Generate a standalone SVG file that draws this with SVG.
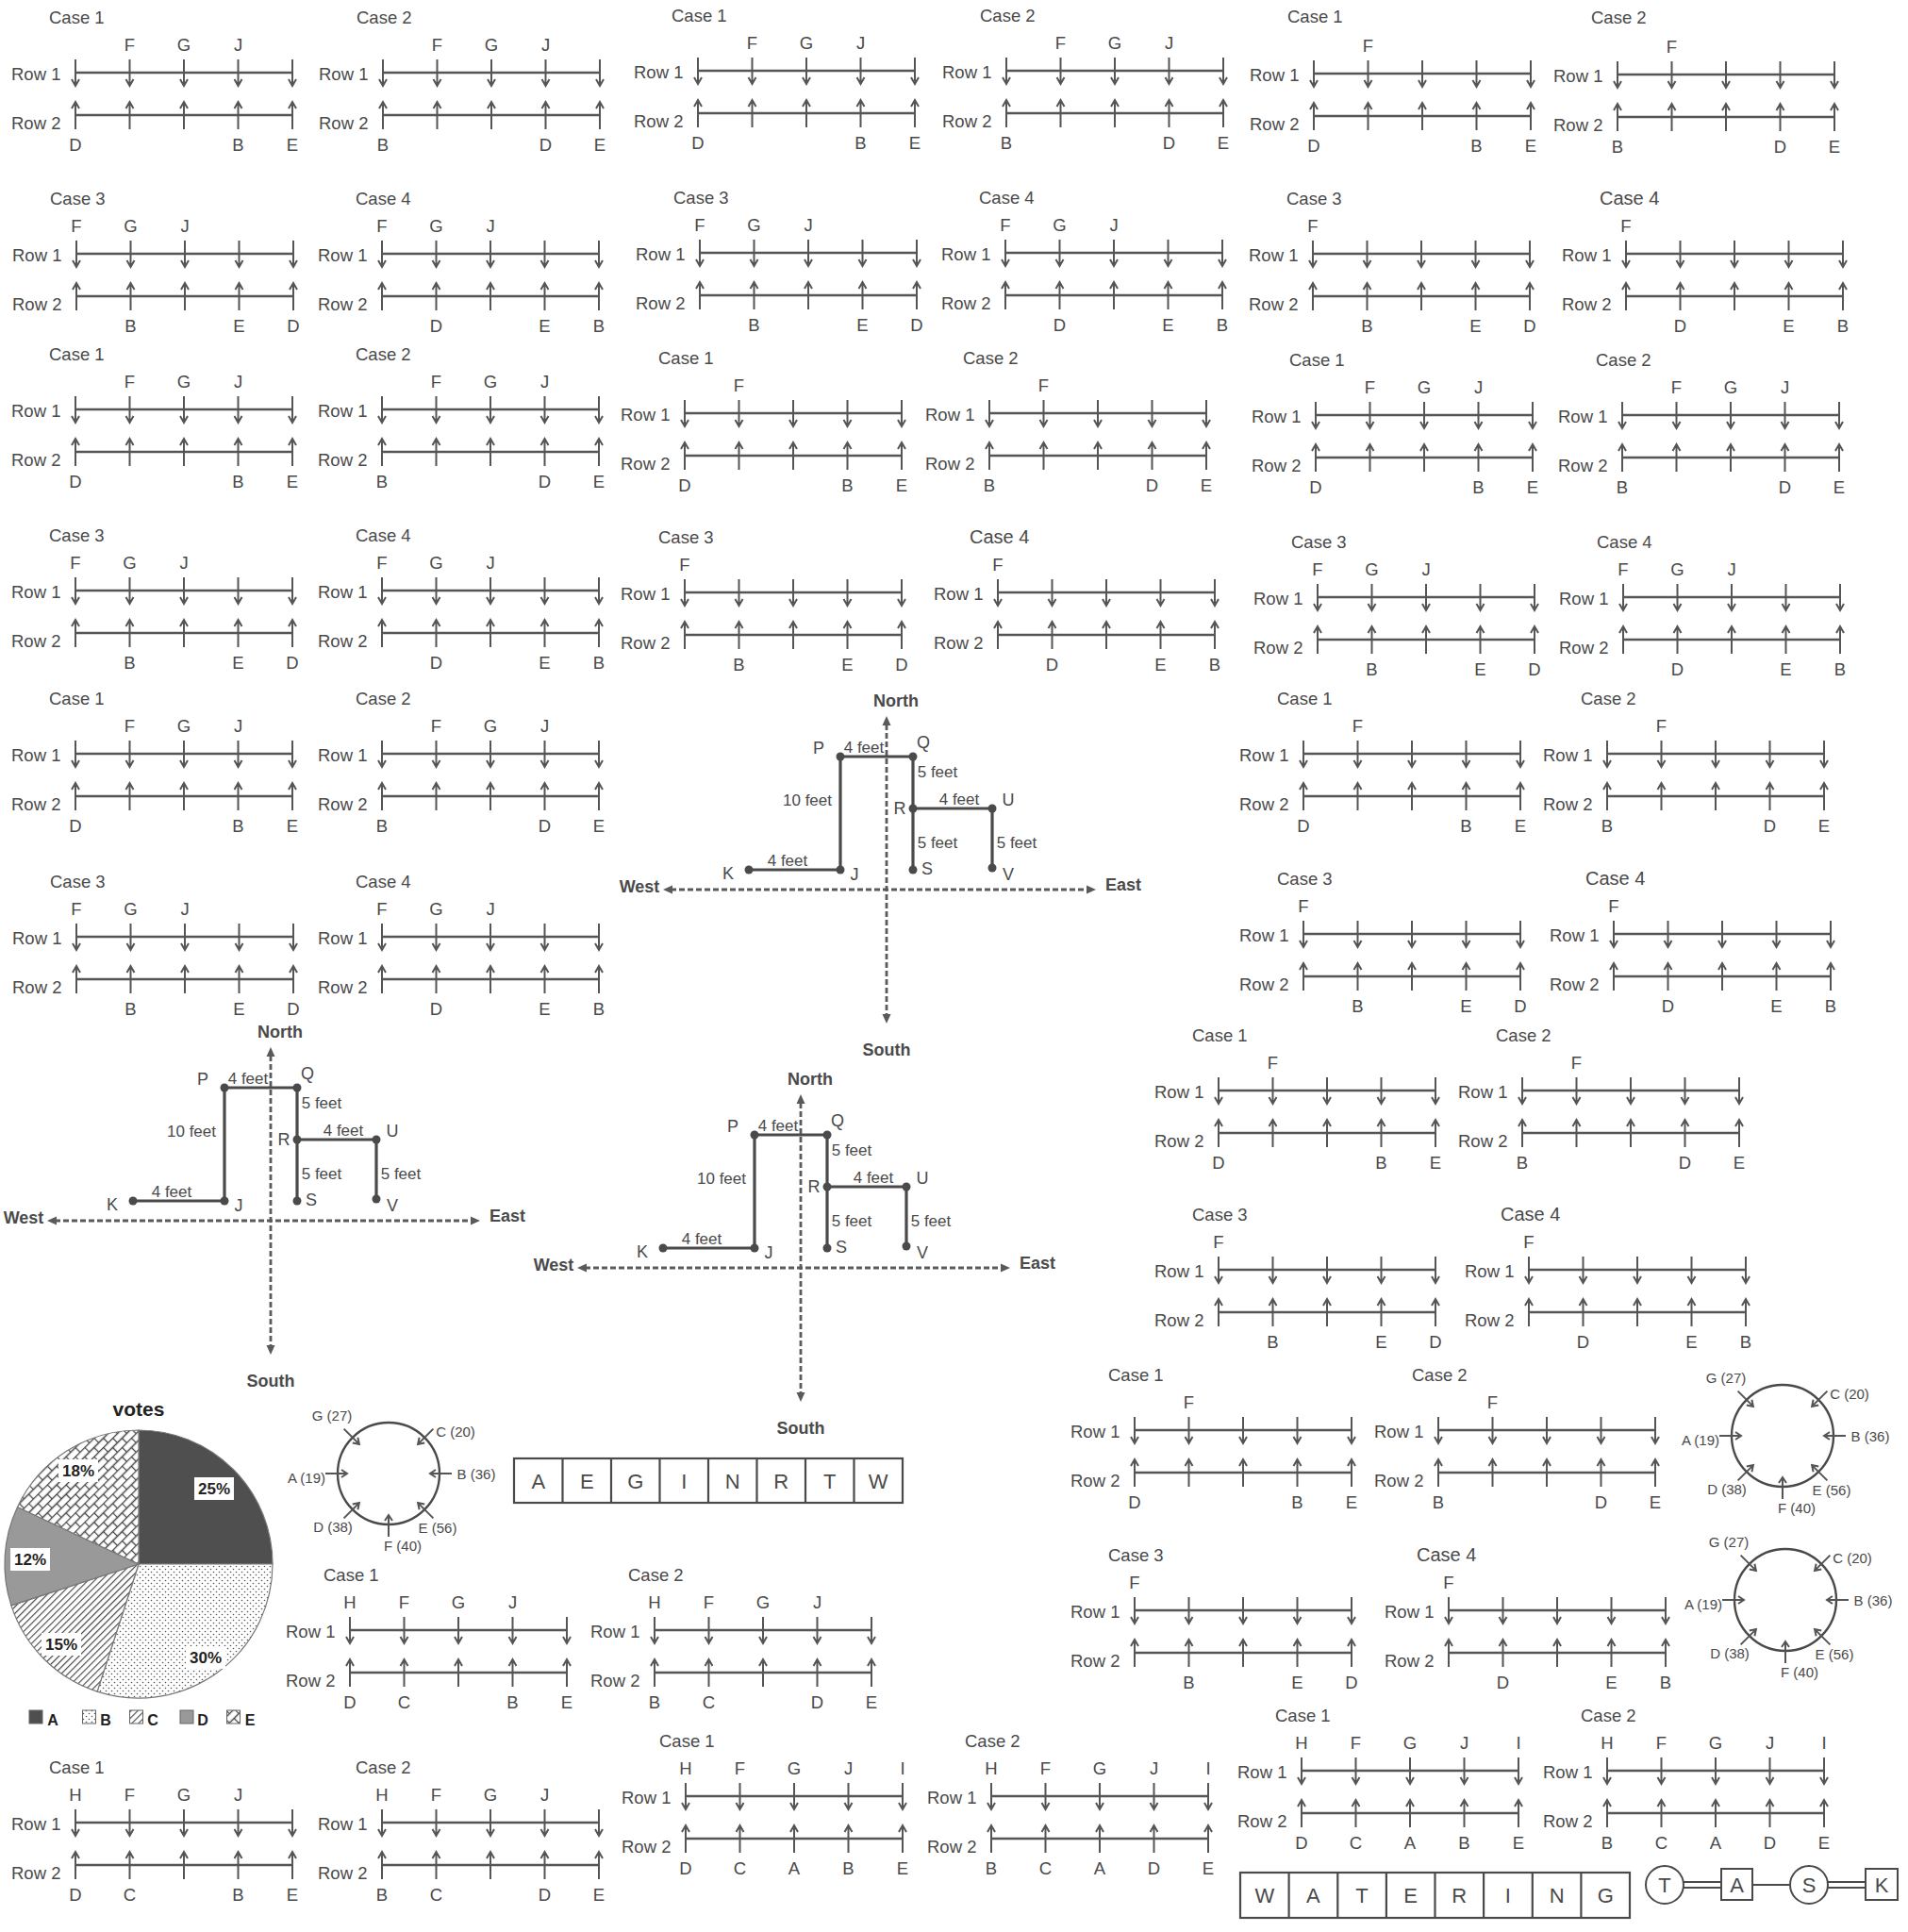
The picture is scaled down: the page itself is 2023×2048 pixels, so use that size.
<svg xmlns="http://www.w3.org/2000/svg" xmlns:xlink="http://www.w3.org/1999/xlink" width="2023" height="2048" viewBox="0 0 2023 2048">
<style>
text{font-family:'Liberation Sans',Arial,sans-serif;fill:#4a4a4a}
.pn text{font-size:18.5px}
.m{text-anchor:middle}
.ln{stroke:#555;stroke-width:2.4;fill:none}
.ar{stroke:#555;stroke-width:2;fill:none}
.dash{stroke:#5a5a5a;stroke-width:2.8;stroke-dasharray:6 3;fill:none}
.route{stroke:#4a4a4a;stroke-width:3.2;fill:none}
.dir{font-size:18px;font-weight:bold;text-anchor:middle}
.ft{font-size:17px;text-anchor:middle}
.nl{font-size:18px;text-anchor:middle}
.cl{font-size:15px;text-anchor:middle}
.box{fill:#fff;stroke:#4a4a4a;stroke-width:2.2}
.bl{font-size:22px;text-anchor:middle}
.pc{font-size:17px;font-weight:bold;text-anchor:middle;fill:#222}
.lg{font-size:16px;font-weight:bold;text-anchor:middle;fill:#222}
</style>
<defs>
<g id="rows">
<path class="ln" d="M0,0H230M0,45H230"/>
<path class="ar" d="M0,-14V14M57.5,-14V14M115,-14V14M172.5,-14V14M230,-14V14M-4,7L0,14L4,7M53.5,7L57.5,14L61.5,7M111,7L115,14L119,7M168.5,7L172.5,14L176.5,7M226,7L230,14L234,7"/>
<path class="ar" d="M0,60V31M57.5,60V31M115,60V31M172.5,60V31M230,60V31M-4,38L0,31L4,38M53.5,38L57.5,31L61.5,38M111,38L115,31L119,38M168.5,38L172.5,31L176.5,38M226,38L230,31L234,38"/>
<text x="-68" y="8" style="font-size:18.5px">Row 1</text>
<text x="-68" y="60" style="font-size:18.5px">Row 2</text>
</g>
<g id="circ">
<circle r="54" fill="none" stroke="#4a4a4a" stroke-width="2.4"/>
<path class="ar" d="M-67,0H-44M-50,-4L-44,0L-50,4M67,0H44M50,-4L44,0L50,4M0,67V44M-4,50L0,44L4,50M47.4,-47.4L31.1,-31.1M38.2,-32.6L31.1,-31.1L32.6,-38.2M-47.4,-47.4L-31.1,-31.1M-32.6,-38.2L-31.1,-31.1L-38.2,-32.6M47.4,47.4L31.1,31.1M38.2,32.6L31.1,31.1L32.6,38.2M-47.4,47.4L-31.1,31.1M-32.6,38.2L-31.1,31.1L-38.2,32.6"/>
<text class="cl" x="-60" y="-56">G (27)</text>
<text class="cl" x="71" y="-39">C (20)</text>
<text class="cl" x="-87" y="10">A (19)</text>
<text class="cl" x="93" y="6">B (36)</text>
<text class="cl" x="-59" y="62">D (38)</text>
<text class="cl" x="52" y="63">E (56)</text>
<text class="cl" x="15" y="82">F (40)</text>
</g>
<pattern id="dots" width="6" height="6" patternUnits="userSpaceOnUse"><rect width="6" height="6" fill="#fff"/><circle cx="1.5" cy="1.5" r="0.8" fill="#555"/><circle cx="4.5" cy="4.5" r="0.8" fill="#555"/></pattern>
<pattern id="hatch" width="5" height="5" patternUnits="userSpaceOnUse" patternTransform="rotate(45)"><rect width="5" height="5" fill="#fff"/><line x1="0.5" y1="0" x2="0.5" y2="5" stroke="#444" stroke-width="1.3"/></pattern>
<pattern id="brick" width="14" height="14" patternUnits="userSpaceOnUse" patternTransform="rotate(-45)"><rect width="14" height="14" fill="#fff"/><path d="M0,0.5H14M0,7.5H14M0.5,0V7M7.5,7V14" stroke="#444" stroke-width="1.3" fill="none"/></pattern>
</defs>
<rect width="2023" height="2048" fill="#fff"/>

<!-- panels -->
<g class="pn">
<g id="p01" transform="translate(80,77)"><use href="#rows"/><text x="-28" y="-52">Case 1</text><text class="m" x="57.5" y="-23">F</text><text class="m" x="115" y="-23">G</text><text class="m" x="172.5" y="-23">J</text><text class="m" x="0" y="83">D</text><text class="m" x="172.5" y="83">B</text><text class="m" x="230" y="83">E</text></g>
<g id="p02" transform="translate(406,77)"><use href="#rows"/><text x="-28" y="-52">Case 2</text><text class="m" x="57.5" y="-23">F</text><text class="m" x="115" y="-23">G</text><text class="m" x="172.5" y="-23">J</text><text class="m" x="0" y="83">B</text><text class="m" x="172.5" y="83">D</text><text class="m" x="230" y="83">E</text></g>
<g id="p03" transform="translate(740,75)"><use href="#rows"/><text x="-28" y="-52">Case 1</text><text class="m" x="57.5" y="-23">F</text><text class="m" x="115" y="-23">G</text><text class="m" x="172.5" y="-23">J</text><text class="m" x="0" y="83">D</text><text class="m" x="172.5" y="83">B</text><text class="m" x="230" y="83">E</text></g>
<g id="p04" transform="translate(1067,75)"><use href="#rows"/><text x="-28" y="-52">Case 2</text><text class="m" x="57.5" y="-23">F</text><text class="m" x="115" y="-23">G</text><text class="m" x="172.5" y="-23">J</text><text class="m" x="0" y="83">B</text><text class="m" x="172.5" y="83">D</text><text class="m" x="230" y="83">E</text></g>
<g id="p05" transform="translate(1393,78)"><use href="#rows"/><text x="-28" y="-54">Case 1</text><text class="m" x="57.5" y="-23">F</text><text class="m" x="0" y="83">D</text><text class="m" x="172.5" y="83">B</text><text class="m" x="230" y="83">E</text></g>
<g id="p06" transform="translate(1715,79)"><use href="#rows"/><text x="-28" y="-54">Case 2</text><text class="m" x="57.5" y="-23">F</text><text class="m" x="0" y="83">B</text><text class="m" x="172.5" y="83">D</text><text class="m" x="230" y="83">E</text></g>

<g id="p07" transform="translate(81,269)"><use href="#rows"/><text x="-28" y="-52">Case 3</text><text class="m" x="0" y="-23">F</text><text class="m" x="57.5" y="-23">G</text><text class="m" x="115" y="-23">J</text><text class="m" x="57.5" y="83">B</text><text class="m" x="172.5" y="83">E</text><text class="m" x="230" y="83">D</text></g>
<g id="p08" transform="translate(405,269)"><use href="#rows"/><text x="-28" y="-52">Case 4</text><text class="m" x="0" y="-23">F</text><text class="m" x="57.5" y="-23">G</text><text class="m" x="115" y="-23">J</text><text class="m" x="57.5" y="83">D</text><text class="m" x="172.5" y="83">E</text><text class="m" x="230" y="83">B</text></g>
<g id="p09" transform="translate(742,268)"><use href="#rows"/><text x="-28" y="-52">Case 3</text><text class="m" x="0" y="-23">F</text><text class="m" x="57.5" y="-23">G</text><text class="m" x="115" y="-23">J</text><text class="m" x="57.5" y="83">B</text><text class="m" x="172.5" y="83">E</text><text class="m" x="230" y="83">D</text></g>
<g id="p10" transform="translate(1066,268)"><use href="#rows"/><text x="-28" y="-52">Case 4</text><text class="m" x="0" y="-23">F</text><text class="m" x="57.5" y="-23">G</text><text class="m" x="115" y="-23">J</text><text class="m" x="57.5" y="83">D</text><text class="m" x="172.5" y="83">E</text><text class="m" x="230" y="83">B</text></g>
<g id="p11" transform="translate(1392,269)"><use href="#rows"/><text x="-28" y="-52">Case 3</text><text class="m" x="0" y="-23">F</text><text class="m" x="57.5" y="83">B</text><text class="m" x="172.5" y="83">E</text><text class="m" x="230" y="83">D</text></g>
<g id="p12" transform="translate(1724,269)"><use href="#rows"/><text x="-28" y="-52" style="font-size:20px">Case 4</text><text class="m" x="0" y="-23">F</text><text class="m" x="57.5" y="83">D</text><text class="m" x="172.5" y="83">E</text><text class="m" x="230" y="83">B</text></g>

<g id="p13" transform="translate(80,434)"><use href="#rows"/><text x="-28" y="-52">Case 1</text><text class="m" x="57.5" y="-23">F</text><text class="m" x="115" y="-23">G</text><text class="m" x="172.5" y="-23">J</text><text class="m" x="0" y="83">D</text><text class="m" x="172.5" y="83">B</text><text class="m" x="230" y="83">E</text></g>
<g id="p14" transform="translate(405,434)"><use href="#rows"/><text x="-28" y="-52">Case 2</text><text class="m" x="57.5" y="-23">F</text><text class="m" x="115" y="-23">G</text><text class="m" x="172.5" y="-23">J</text><text class="m" x="0" y="83">B</text><text class="m" x="172.5" y="83">D</text><text class="m" x="230" y="83">E</text></g>
<g id="p15" transform="translate(726,438)"><use href="#rows"/><text x="-28" y="-52">Case 1</text><text class="m" x="57.5" y="-23">F</text><text class="m" x="0" y="83">D</text><text class="m" x="172.5" y="83">B</text><text class="m" x="230" y="83">E</text></g>
<g id="p16" transform="translate(1049,438)"><use href="#rows"/><text x="-28" y="-52">Case 2</text><text class="m" x="57.5" y="-23">F</text><text class="m" x="0" y="83">B</text><text class="m" x="172.5" y="83">D</text><text class="m" x="230" y="83">E</text></g>
<g id="p17" transform="translate(1395,440)"><use href="#rows"/><text x="-28" y="-52">Case 1</text><text class="m" x="57.5" y="-23">F</text><text class="m" x="115" y="-23">G</text><text class="m" x="172.5" y="-23">J</text><text class="m" x="0" y="83">D</text><text class="m" x="172.5" y="83">B</text><text class="m" x="230" y="83">E</text></g>
<g id="p18" transform="translate(1720,440)"><use href="#rows"/><text x="-28" y="-52">Case 2</text><text class="m" x="57.5" y="-23">F</text><text class="m" x="115" y="-23">G</text><text class="m" x="172.5" y="-23">J</text><text class="m" x="0" y="83">B</text><text class="m" x="172.5" y="83">D</text><text class="m" x="230" y="83">E</text></g>

<g id="p19" transform="translate(80,626)"><use href="#rows"/><text x="-28" y="-52">Case 3</text><text class="m" x="0" y="-23">F</text><text class="m" x="57.5" y="-23">G</text><text class="m" x="115" y="-23">J</text><text class="m" x="57.5" y="83">B</text><text class="m" x="172.5" y="83">E</text><text class="m" x="230" y="83">D</text></g>
<g id="p20" transform="translate(405,626)"><use href="#rows"/><text x="-28" y="-52">Case 4</text><text class="m" x="0" y="-23">F</text><text class="m" x="57.5" y="-23">G</text><text class="m" x="115" y="-23">J</text><text class="m" x="57.5" y="83">D</text><text class="m" x="172.5" y="83">E</text><text class="m" x="230" y="83">B</text></g>
<g id="p21" transform="translate(726,628)"><use href="#rows"/><text x="-28" y="-52">Case 3</text><text class="m" x="0" y="-23">F</text><text class="m" x="57.5" y="83">B</text><text class="m" x="172.5" y="83">E</text><text class="m" x="230" y="83">D</text></g>
<g id="p22" transform="translate(1058,628)"><use href="#rows"/><text x="-30" y="-52" style="font-size:20px">Case 4</text><text class="m" x="0" y="-23">F</text><text class="m" x="57.5" y="83">D</text><text class="m" x="172.5" y="83">E</text><text class="m" x="230" y="83">B</text></g>
<g id="p23" transform="translate(1397,633)"><use href="#rows"/><text x="-28" y="-52">Case 3</text><text class="m" x="0" y="-23">F</text><text class="m" x="57.5" y="-23">G</text><text class="m" x="115" y="-23">J</text><text class="m" x="57.5" y="83">B</text><text class="m" x="172.5" y="83">E</text><text class="m" x="230" y="83">D</text></g>
<g id="p24" transform="translate(1721,633)"><use href="#rows"/><text x="-28" y="-52">Case 4</text><text class="m" x="0" y="-23">F</text><text class="m" x="57.5" y="-23">G</text><text class="m" x="115" y="-23">J</text><text class="m" x="57.5" y="83">D</text><text class="m" x="172.5" y="83">E</text><text class="m" x="230" y="83">B</text></g>

<g id="p25" transform="translate(80,799)"><use href="#rows"/><text x="-28" y="-52">Case 1</text><text class="m" x="57.5" y="-23">F</text><text class="m" x="115" y="-23">G</text><text class="m" x="172.5" y="-23">J</text><text class="m" x="0" y="83">D</text><text class="m" x="172.5" y="83">B</text><text class="m" x="230" y="83">E</text></g>
<g id="p26" transform="translate(405,799)"><use href="#rows"/><text x="-28" y="-52">Case 2</text><text class="m" x="57.5" y="-23">F</text><text class="m" x="115" y="-23">G</text><text class="m" x="172.5" y="-23">J</text><text class="m" x="0" y="83">B</text><text class="m" x="172.5" y="83">D</text><text class="m" x="230" y="83">E</text></g>
<g id="p27" transform="translate(1382,799)"><use href="#rows"/><text x="-28" y="-52">Case 1</text><text class="m" x="57.5" y="-23">F</text><text class="m" x="0" y="83">D</text><text class="m" x="172.5" y="83">B</text><text class="m" x="230" y="83">E</text></g>
<g id="p28" transform="translate(1704,799)"><use href="#rows"/><text x="-28" y="-52">Case 2</text><text class="m" x="57.5" y="-23">F</text><text class="m" x="0" y="83">B</text><text class="m" x="172.5" y="83">D</text><text class="m" x="230" y="83">E</text></g>

<g id="p29" transform="translate(81,993)"><use href="#rows"/><text x="-28" y="-52">Case 3</text><text class="m" x="0" y="-23">F</text><text class="m" x="57.5" y="-23">G</text><text class="m" x="115" y="-23">J</text><text class="m" x="57.5" y="83">B</text><text class="m" x="172.5" y="83">E</text><text class="m" x="230" y="83">D</text></g>
<g id="p30" transform="translate(405,993)"><use href="#rows"/><text x="-28" y="-52">Case 4</text><text class="m" x="0" y="-23">F</text><text class="m" x="57.5" y="-23">G</text><text class="m" x="115" y="-23">J</text><text class="m" x="57.5" y="83">D</text><text class="m" x="172.5" y="83">E</text><text class="m" x="230" y="83">B</text></g>
<g id="p31" transform="translate(1382,990)"><use href="#rows"/><text x="-28" y="-52">Case 3</text><text class="m" x="0" y="-23">F</text><text class="m" x="57.5" y="83">B</text><text class="m" x="172.5" y="83">E</text><text class="m" x="230" y="83">D</text></g>
<g id="p32" transform="translate(1711,990)"><use href="#rows"/><text x="-30" y="-52" style="font-size:20px">Case 4</text><text class="m" x="0" y="-23">F</text><text class="m" x="57.5" y="83">D</text><text class="m" x="172.5" y="83">E</text><text class="m" x="230" y="83">B</text></g>

<g id="p33" transform="translate(1292,1156)"><use href="#rows"/><text x="-28" y="-52">Case 1</text><text class="m" x="57.5" y="-23">F</text><text class="m" x="0" y="83">D</text><text class="m" x="172.5" y="83">B</text><text class="m" x="230" y="83">E</text></g>
<g id="p34" transform="translate(1614,1156)"><use href="#rows"/><text x="-28" y="-52">Case 2</text><text class="m" x="57.5" y="-23">F</text><text class="m" x="0" y="83">B</text><text class="m" x="172.5" y="83">D</text><text class="m" x="230" y="83">E</text></g>
<g id="p35" transform="translate(1292,1346)"><use href="#rows"/><text x="-28" y="-52">Case 3</text><text class="m" x="0" y="-23">F</text><text class="m" x="57.5" y="83">B</text><text class="m" x="172.5" y="83">E</text><text class="m" x="230" y="83">D</text></g>
<g id="p36" transform="translate(1621,1346)"><use href="#rows"/><text x="-30" y="-52" style="font-size:20px">Case 4</text><text class="m" x="0" y="-23">F</text><text class="m" x="57.5" y="83">D</text><text class="m" x="172.5" y="83">E</text><text class="m" x="230" y="83">B</text></g>
<g id="p37" transform="translate(1203,1516)"><use href="#rows"/><text x="-28" y="-52">Case 1</text><text class="m" x="57.5" y="-23">F</text><text class="m" x="0" y="83">D</text><text class="m" x="172.5" y="83">B</text><text class="m" x="230" y="83">E</text></g>
<g id="p38" transform="translate(1525,1516)"><use href="#rows"/><text x="-28" y="-52">Case 2</text><text class="m" x="57.5" y="-23">F</text><text class="m" x="0" y="83">B</text><text class="m" x="172.5" y="83">D</text><text class="m" x="230" y="83">E</text></g>
<g id="p39" transform="translate(1203,1707)"><use href="#rows"/><text x="-28" y="-52">Case 3</text><text class="m" x="0" y="-23">F</text><text class="m" x="57.5" y="83">B</text><text class="m" x="172.5" y="83">E</text><text class="m" x="230" y="83">D</text></g>
<g id="p40" transform="translate(1536,1707)"><use href="#rows"/><text x="-34" y="-52" style="font-size:20px">Case 4</text><text class="m" x="0" y="-23">F</text><text class="m" x="57.5" y="83">D</text><text class="m" x="172.5" y="83">E</text><text class="m" x="230" y="83">B</text></g>

<g id="p41" transform="translate(371,1728)"><use href="#rows"/><text x="-28" y="-52">Case 1</text><text class="m" x="0" y="-23">H</text><text class="m" x="57.5" y="-23">F</text><text class="m" x="115" y="-23">G</text><text class="m" x="172.5" y="-23">J</text><text class="m" x="0" y="83">D</text><text class="m" x="57.5" y="83">C</text><text class="m" x="172.5" y="83">B</text><text class="m" x="230" y="83">E</text></g>
<g id="p42" transform="translate(694,1728)"><use href="#rows"/><text x="-28" y="-52">Case 2</text><text class="m" x="0" y="-23">H</text><text class="m" x="57.5" y="-23">F</text><text class="m" x="115" y="-23">G</text><text class="m" x="172.5" y="-23">J</text><text class="m" x="0" y="83">B</text><text class="m" x="57.5" y="83">C</text><text class="m" x="172.5" y="83">D</text><text class="m" x="230" y="83">E</text></g>
<g id="p43" transform="translate(80,1932)"><use href="#rows"/><text x="-28" y="-52">Case 1</text><text class="m" x="0" y="-23">H</text><text class="m" x="57.5" y="-23">F</text><text class="m" x="115" y="-23">G</text><text class="m" x="172.5" y="-23">J</text><text class="m" x="0" y="83">D</text><text class="m" x="57.5" y="83">C</text><text class="m" x="172.5" y="83">B</text><text class="m" x="230" y="83">E</text></g>
<g id="p44" transform="translate(405,1932)"><use href="#rows"/><text x="-28" y="-52">Case 2</text><text class="m" x="0" y="-23">H</text><text class="m" x="57.5" y="-23">F</text><text class="m" x="115" y="-23">G</text><text class="m" x="172.5" y="-23">J</text><text class="m" x="0" y="83">B</text><text class="m" x="57.5" y="83">C</text><text class="m" x="172.5" y="83">D</text><text class="m" x="230" y="83">E</text></g>
<g id="p45" transform="translate(727,1904)"><use href="#rows"/><text x="-28" y="-52">Case 1</text><text class="m" x="0" y="-23">H</text><text class="m" x="57.5" y="-23">F</text><text class="m" x="115" y="-23">G</text><text class="m" x="172.5" y="-23">J</text><text class="m" x="230" y="-23">I</text><text class="m" x="0" y="83">D</text><text class="m" x="57.5" y="83">C</text><text class="m" x="115" y="83">A</text><text class="m" x="172.5" y="83">B</text><text class="m" x="230" y="83">E</text></g>
<g id="p46" transform="translate(1051,1904)"><use href="#rows"/><text x="-28" y="-52">Case 2</text><text class="m" x="0" y="-23">H</text><text class="m" x="57.5" y="-23">F</text><text class="m" x="115" y="-23">G</text><text class="m" x="172.5" y="-23">J</text><text class="m" x="230" y="-23">I</text><text class="m" x="0" y="83">B</text><text class="m" x="57.5" y="83">C</text><text class="m" x="115" y="83">A</text><text class="m" x="172.5" y="83">D</text><text class="m" x="230" y="83">E</text></g>
<g id="p47" transform="translate(1380,1877)"><use href="#rows"/><text x="-28" y="-52">Case 1</text><text class="m" x="0" y="-23">H</text><text class="m" x="57.5" y="-23">F</text><text class="m" x="115" y="-23">G</text><text class="m" x="172.5" y="-23">J</text><text class="m" x="230" y="-23">I</text><text class="m" x="0" y="83">D</text><text class="m" x="57.5" y="83">C</text><text class="m" x="115" y="83">A</text><text class="m" x="172.5" y="83">B</text><text class="m" x="230" y="83">E</text></g>
<g id="p48" transform="translate(1704,1877)"><use href="#rows"/><text x="-28" y="-52">Case 2</text><text class="m" x="0" y="-23">H</text><text class="m" x="57.5" y="-23">F</text><text class="m" x="115" y="-23">G</text><text class="m" x="172.5" y="-23">J</text><text class="m" x="230" y="-23">I</text><text class="m" x="0" y="83">B</text><text class="m" x="57.5" y="83">C</text><text class="m" x="115" y="83">A</text><text class="m" x="172.5" y="83">D</text><text class="m" x="230" y="83">E</text></g>
</g>

<!-- compass diagrams -->
<g id="compass-1">
<path class="dash" d="M940,768V1076M711,943H1154"/>
<path fill="#5a5a5a" d="M940,759l-4.5,10h9zM940,1085l-4.5,-10h9zM703,943l10,-4.5v9zM1162,943l-10,-4.5v9z"/>
<path class="route" d="M794,922H891V802H968V922M968,857H1052V920"/>
<g fill="#4a4a4a"><circle cx="794" cy="922" r="4.5"/><circle cx="891" cy="922" r="4.5"/><circle cx="891" cy="802" r="4.5"/><circle cx="968" cy="802" r="4.5"/><circle cx="968" cy="857" r="4.5"/><circle cx="1052" cy="857" r="4.5"/><circle cx="968" cy="922" r="4.5"/><circle cx="1052" cy="920" r="4.5"/></g>
<text class="dir" x="950" y="749">North</text>
<text class="dir" x="940" y="1119">South</text>
<text class="dir" x="678" y="946">West</text>
<text class="dir" x="1191" y="944">East</text>
<text class="nl" x="868" y="799">P</text>
<text class="ft" x="916" y="798">4 feet</text>
<text class="nl" x="979" y="793">Q</text>
<text class="ft" x="994" y="824">5 feet</text>
<text class="ft" x="856" y="854">10 feet</text>
<text class="nl" x="954" y="863">R</text>
<text class="ft" x="1017" y="853">4 feet</text>
<text class="nl" x="1069" y="854">U</text>
<text class="ft" x="994" y="899">5 feet</text>
<text class="ft" x="1078" y="899">5 feet</text>
<text class="ft" x="835" y="918">4 feet</text>
<text class="nl" x="772" y="932">K</text>
<text class="nl" x="906" y="933">J</text>
<text class="nl" x="983" y="927">S</text>
<text class="nl" x="1069" y="933">V</text>
</g>
<use id="compass-2" href="#compass-1" transform="translate(-653,351)"/>
<use id="compass-3" href="#compass-1" transform="translate(-91,401)"/>

<!-- pie chart -->
<g id="pie">
<text x="147" y="1501" style="font-size:21px;font-weight:bold;fill:#222;text-anchor:middle">votes</text>
<g stroke="#777" stroke-width="1.2">
<path d="M147,1658L147,1516A142,142 0 0 1 289,1658Z" fill="#4f4f4f"/>
<path d="M147,1658L289,1658A142,142 0 0 1 103.1,1793.1Z" fill="url(#dots)"/>
<path d="M147,1658L103.1,1793.1A142,142 0 0 1 11.9,1701.9Z" fill="url(#hatch)"/>
<path d="M147,1658L11.9,1701.9A142,142 0 0 1 18.5,1597.5Z" fill="#999"/>
<path d="M147,1658L18.5,1597.5A142,142 0 0 1 147,1516Z" fill="url(#brick)"/>
</g>
<g fill="#fff">
<rect x="206" y="1566" width="42" height="24"/>
<rect x="197" y="1745" width="42" height="24"/>
<rect x="62" y="1547" width="42" height="24"/>
<rect x="11" y="1641" width="42" height="24"/>
<rect x="44" y="1731" width="42" height="24"/>
</g>
<text class="pc" x="227" y="1584">25%</text>
<text class="pc" x="218" y="1763">30%</text>
<text class="pc" x="83" y="1565">18%</text>
<text class="pc" x="32" y="1659">12%</text>
<text class="pc" x="65" y="1749">15%</text>
<g stroke="#666" stroke-width="1">
<rect x="31" y="1813" width="14" height="14" fill="#4f4f4f"/>
<rect x="87.5" y="1813" width="14" height="14" fill="url(#dots)"/>
<rect x="137.5" y="1813" width="14" height="14" fill="url(#hatch)"/>
<rect x="191" y="1813" width="14" height="14" fill="#999"/>
<rect x="240.5" y="1813" width="14" height="14" fill="url(#brick)"/>
</g>
<text class="lg" x="56" y="1829">A</text>
<text class="lg" x="112" y="1829">B</text>
<text class="lg" x="162" y="1829">C</text>
<text class="lg" x="215" y="1829">D</text>
<text class="lg" x="265" y="1829">E</text>
</g>

<!-- circle diagrams -->
<g id="circle-1" transform="translate(412,1562)"><use href="#circ"/></g>
<g id="circle-2" transform="translate(1890,1522)"><use href="#circ"/></g>
<g id="circle-3" transform="translate(1893,1696)"><use href="#circ"/></g>

<!-- letter boxes -->
<g id="letters-1">
<rect class="box" x="545" y="1546" width="412" height="47"/>
<path stroke="#4a4a4a" stroke-width="2.2" d="M596.5,1546V1593M648,1546V1593M699.5,1546V1593M751,1546V1593M802.5,1546V1593M854,1546V1593M905.5,1546V1593"/>
<text class="bl" x="570.75" y="1578">A</text><text class="bl" x="622.25" y="1578">E</text><text class="bl" x="673.75" y="1578">G</text><text class="bl" x="725.25" y="1578">I</text><text class="bl" x="776.75" y="1578">N</text><text class="bl" x="828.25" y="1578">R</text><text class="bl" x="879.75" y="1578">T</text><text class="bl" x="931.25" y="1578">W</text>
</g>
<g id="letters-2">
<rect class="box" x="1315" y="1985" width="413" height="48"/>
<path stroke="#4a4a4a" stroke-width="2.2" d="M1366.6,1985V2033M1418.3,1985V2033M1469.9,1985V2033M1521.5,1985V2033M1573.1,1985V2033M1624.8,1985V2033M1676.4,1985V2033"/>
<text class="bl" x="1340.8" y="2017">W</text><text class="bl" x="1392.4" y="2017">A</text><text class="bl" x="1444.1" y="2017">T</text><text class="bl" x="1495.7" y="2017">E</text><text class="bl" x="1547.3" y="2017">R</text><text class="bl" x="1598.9" y="2017">I</text><text class="bl" x="1650.6" y="2017">N</text><text class="bl" x="1702.2" y="2017">G</text>
</g>

<!-- T-A-S-K chain -->
<g id="connectors" stroke="#4a4a4a" stroke-width="1.8" fill="none">
<path d="M1785,1995H1825M1785,2001H1825"/>
<path d="M1858,1998H1898"/>
<path d="M1938,1995H1978M1938,2001H1978"/>
</g>
<g id="node-T"><circle cx="1765" cy="1998" r="20" fill="#fff" stroke="#4a4a4a" stroke-width="2"/><text class="bl" x="1765" y="2006">T</text></g>
<g id="node-A"><rect x="1825" y="1981" width="33" height="33" fill="#fff" stroke="#4a4a4a" stroke-width="2"/><text class="bl" x="1841.5" y="2006">A</text></g>
<g id="node-S"><circle cx="1918" cy="1998" r="20" fill="#fff" stroke="#4a4a4a" stroke-width="2"/><text class="bl" x="1918" y="2006">S</text></g>
<g id="node-K"><rect x="1978" y="1981" width="34" height="33" fill="#fff" stroke="#4a4a4a" stroke-width="2"/><text class="bl" x="1995" y="2006">K</text></g>
</svg>
